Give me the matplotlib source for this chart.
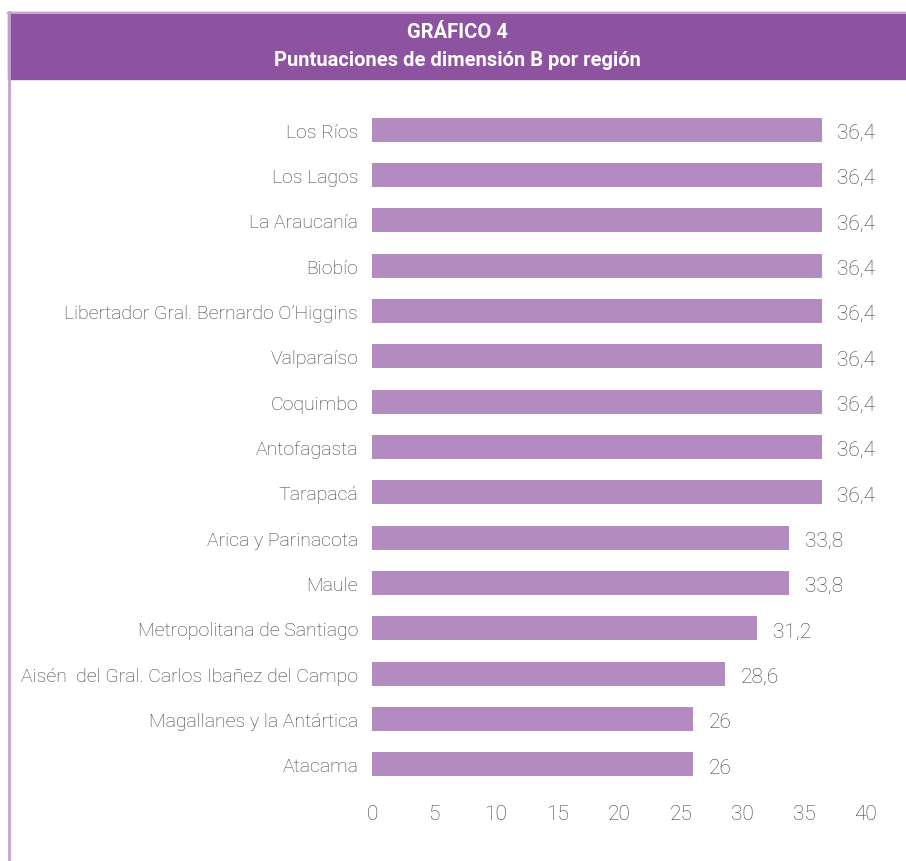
import matplotlib
matplotlib.use("Agg")
import matplotlib.pyplot as plt
from matplotlib import font_manager
from matplotlib.patches import Rectangle

# data (top to bottom as in the chart)
regions = ["Los Ríos", "Los Lagos", "La Araucanía", "Biobío",
           "Libertador Gral. Bernardo O\u2019Higgins", "Valparaíso", "Coquimbo",
           "Antofagasta", "Tarapacá", "Arica y Parinacota", "Maule",
           "Metropolitana de Santiago", "Aisén  del Gral. Carlos Ibañez del Campo",
           "Magallanes y la Antártica", "Atacama"]
scores = [36.4, 36.4, 36.4, 36.4, 36.4, 36.4, 36.4, 36.4, 36.4,
          33.8, 33.8, 31.2, 28.6, 26, 26]
xticks = [0, 5, 10, 15, 20, 25, 30, 35, 40]

title_1 = "GRÁFICO 4"
title_2 = "Puntuaciones de dimensión B por región"

installed = {f.name for f in font_manager.fontManager.ttflist}
narrow = "Liberation Sans Narrow" if "Liberation Sans Narrow" in installed else "Roboto"
plt.rcParams["font.family"] = [narrow, "DejaVu Sans"]

header_col = "#8e53a0"
bar_col = "#b38bc1"
border_col = "#c4a3d1"
txt_col = "#3c3c3c"

fig = plt.figure(figsize=(9.06, 8.62), dpi=100)
W, H = 906, 862

# header band + frame
fig.patches.append(Rectangle((8 / W, 1 - 80 / H), 1 - 8 / W, 67 / H,
                             transform=fig.transFigure, color=header_col, zorder=0))
fig.add_artist(plt.Line2D([8.5 / W, 8.5 / W], [0, 1 - 13 / H], transform=fig.transFigure,
                          color=border_col, lw=2))
fig.add_artist(plt.Line2D([8 / W, 1], [1 - 13.5 / H, 1 - 13.5 / H], transform=fig.transFigure,
                          color=border_col, lw=1.5))
fig.text(0.5 * (1 + 8 / W), 1 - 33 / H, title_1, ha="center", va="center",
         color="white", fontsize=14.5, fontweight="bold")
fig.text(0.5 * (1 + 8 / W), 1 - 60 / H, title_2, ha="center", va="center",
         color="white", fontsize=14.5, fontweight="bold")

ax = fig.add_axes([372 / W, 1 - 788 / H, (866 - 372) / W, (788 - 108) / H])
pos = list(range(len(regions)))
ax.barh(pos, scores, height=0.53, color=bar_col)
ax.set_ylim(len(regions) - 0.5, -0.5)
ax.set_xlim(0, 40)
ax.set_yticks(pos)
ax.set_yticklabels(regions, fontsize=14, color=txt_col, fontweight="light")
ax.set_xticks(xticks)
ax.set_xticklabels([str(t) for t in xticks], fontsize=15, color=txt_col, fontweight="light")
ax.tick_params(length=0, axis="y", pad=10)
ax.tick_params(length=0, axis="x", pad=12)
for s in ax.spines.values():
    s.set_visible(False)

for i, v in enumerate(scores):
    lab = ("%g" % v).replace(".", ",")
    ax.annotate(lab, (v, i), xytext=(11, -2), textcoords="offset points",
                ha="left", va="center", fontsize=15, color=txt_col, fontweight="light")

fig.savefig("out.png", dpi=100, facecolor="white")
